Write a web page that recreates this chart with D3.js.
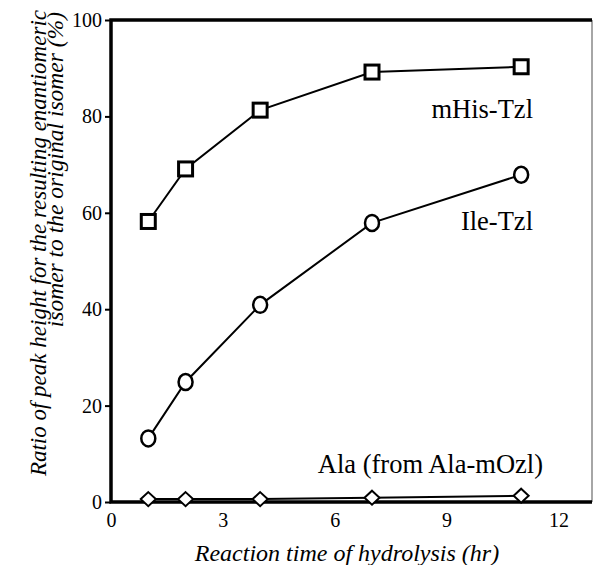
<!DOCTYPE html>
<html>
<head>
<meta charset="utf-8">
<script src="https://cdn.jsdelivr.net/npm/d3@7"></script>
</head>
<body style="margin:0">
<script>
// reaction times (hr)
var hours = [1, 2, 4, 7, 11];
// ratio values (%)
var mHisTzl = [58.2, 69.1, 81.3, 89.2, 90.3];
var ileTzl = [13.2, 24.9, 40.9, 57.9, 67.9];
var alaMOzl = [0.6, 0.6, 0.6, 0.9, 1.3];
var xTicks = [0, 3, 6, 9, 12];
var yTicks = [0, 20, 40, 60, 80, 100];

var FONT = "Liberation Serif";

var svgWidth = 593;
var svgHeight = 565;

var margin = { top: 20, right: 1, bottom: 63, left: 111 };
var width = svgWidth - margin.left - margin.right;
var height = svgHeight - margin.top - margin.bottom;

var svg = d3.select("body")
    .append("svg")
    .attr("width", svgWidth)
    .attr("height", svgHeight);

var chartGroup = svg.append("g")
    .attr("transform", `translate(${margin.left}, ${margin.top})`);

var xScale = d3.scaleLinear().domain([0, 12.9]).range([0, width]);
var yScale = d3.scaleLinear().domain([0, 100]).range([height, 0]);

// axes (ticks + labels only, frame drawn below)
var leftAxis = d3.axisLeft(yScale).tickValues(yTicks).tickSize(6).tickPadding(3);
var bottomAxis = d3.axisBottom(xScale).tickValues(xTicks).tickSize(0).tickPadding(11);

var yAxis = chartGroup.append("g").call(leftAxis);
var xAxis = chartGroup.append("g")
    .attr("transform", `translate(0, ${height})`)
    .call(bottomAxis);

[yAxis, xAxis].forEach(function(ax) {
    ax.attr("font-family", null).attr("font-size", null);
    ax.select(".domain").remove();
    ax.selectAll("line").attr("stroke", "#000").attr("stroke-width", 2);
    ax.selectAll("text").attr("fill", "#000").attr("font-size", 20);
});

// frame
chartGroup.append("line")
    .attr("x1", width).attr("x2", width).attr("y1", 0).attr("y2", height)
    .attr("stroke", "#888").attr("stroke-width", 1.5);
chartGroup.append("path")
    .attr("d", `M${width},0H0V${height}H${width}`)
    .attr("fill", "none")
    .attr("stroke", "#000")
    .attr("stroke-width", 3.5);

var line = d3.line()
    .x((d, i) => xScale(hours[i]))
    .y(d => yScale(d));

// series lines
[mHisTzl, ileTzl, alaMOzl].forEach(function(s) {
    chartGroup.append("path").datum(s)
        .attr("d", line).attr("fill", "none").attr("stroke", "#000").attr("stroke-width", 2);
});

// squares
chartGroup.selectAll(".sq")
    .data(mHisTzl)
    .enter()
    .append("rect")
    .attr("x", (d, i) => xScale(hours[i]) - 7)
    .attr("y", d => yScale(d) - 7)
    .attr("width", 14)
    .attr("height", 14)
    .attr("fill", "#fff")
    .attr("stroke", "#000")
    .attr("stroke-width", 3);

// circles (slightly tall ellipses)
chartGroup.selectAll(".el")
    .data(ileTzl)
    .enter()
    .append("ellipse")
    .attr("cx", (d, i) => xScale(hours[i]))
    .attr("cy", d => yScale(d))
    .attr("rx", 7)
    .attr("ry", 8)
    .attr("fill", "#fff")
    .attr("stroke", "#000")
    .attr("stroke-width", 2.5);

// diamonds
chartGroup.selectAll(".dm")
    .data(alaMOzl)
    .enter()
    .append("path")
    .attr("transform", (d, i) => `translate(${xScale(hours[i])}, ${yScale(d)})`)
    .attr("d", "M0,-7L7.5,0L0,7L-7.5,0Z")
    .attr("fill", "#fff")
    .attr("stroke", "#000")
    .attr("stroke-width", 2);

// series labels
chartGroup.append("text")
    .attr("x", 422).attr("y", 98)
    .attr("font-size", 26.5)
    .attr("text-anchor", "end")
    .text("mHis-Tzl");
chartGroup.append("text")
    .attr("x", 422).attr("y", 210)
    .attr("font-size", 26.5)
    .attr("text-anchor", "end")
    .text("Ile-Tzl");
chartGroup.append("text")
    .attr("x", 432).attr("y", 453)
    .attr("font-size", 26.5)
    .attr("text-anchor", "end")
    .text("Ala (from Ala-mOzl)");

// axis titles
svg.append("text")
    .attr("x", 347).attr("y", 561)
    .attr("text-anchor", "middle")
    .attr("font-size", 24)
    .attr("font-style", "italic")
    .text("Reaction time of hydrolysis (hr)");

var yTitle = svg.append("g").attr("transform", "translate(0, 10) rotate(-90)");
yTitle.append("text")
    .attr("x", 0).attr("y", 46)
    .attr("text-anchor", "end")
    .attr("font-size", 23)
    .attr("font-style", "italic")
    .text("Ratio of peak height for the resulting enantiomeric");
yTitle.append("text")
    .attr("x", -2).attr("y", 63)
    .attr("text-anchor", "end")
    .attr("font-size", 23.5)
    .attr("font-style", "italic")
    .text("isomer to the original isomer (%)");

// serif face on every text
svg.selectAll("text").attr("font-family", FONT).style("font-family", FONT);
</script>
</body>
</html>
